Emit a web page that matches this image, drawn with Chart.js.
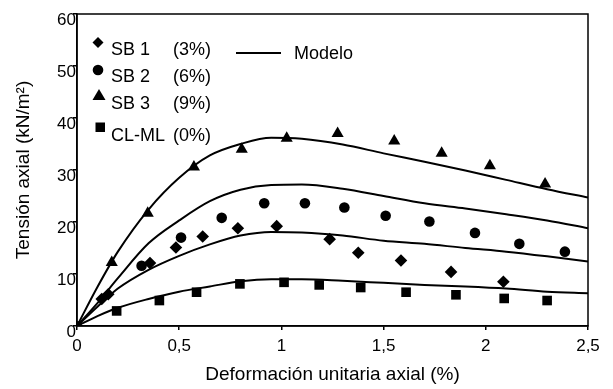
<!DOCTYPE html>
<html>
<head>
<meta charset="utf-8">
<script src="https://cdn.jsdelivr.net/npm/chart.js@4"></script>
<style>
  html, body { margin: 0; padding: 0; background: #fff; }
  #chart { display: block; }
</style>
</head>
<body>
<canvas id="chart" width="613" height="389"></canvas>
<script>
// ensayos (deformación %, tensión kN/m2)
const sb1X = [0.121, 0.153, 0.357, 0.484, 0.615, 0.787, 0.977, 1.236, 1.376, 1.585, 1.830, 2.086];
const sb1Y = [5.2, 6.1, 12.1, 15.1, 17.2, 18.8, 19.2, 16.7, 14.1, 12.6, 10.4, 8.5];

const sb2X = [0.316, 0.509, 0.708, 0.916, 1.115, 1.308, 1.51, 1.724, 1.947, 2.164, 2.387];
const sb2Y = [11.6, 17.0, 20.8, 23.6, 23.6, 22.8, 21.2, 20.1, 17.9, 15.8, 14.3];

const sb3X = [0.17, 0.346, 0.572, 0.806, 1.026, 1.275, 1.552, 1.784, 2.02, 2.29];
const sb3Y = [12.2, 21.7, 30.6, 34.0, 36.1, 37.0, 35.6, 33.2, 30.8, 27.3];

const clX = [0, 0.194, 0.403, 0.585, 0.797, 1.013, 1.185, 1.388, 1.61, 1.854, 2.09, 2.30];
const clY = [0, 2.9, 4.9, 6.5, 8.1, 8.4, 7.9, 7.4, 6.5, 6.0, 5.3, 4.9];

// curvas del modelo
const modelX = [0, 0.1, 0.2, 0.35, 0.5, 0.65, 0.8, 0.95, 1.1, 1.3, 1.5, 1.7, 1.9, 2.1, 2.3, 2.5];
const modelSb3 = [0, 7.5, 14.3, 22.4, 28.5, 32.8, 35.0, 36.2, 36.0, 34.9, 33.2, 31.6, 29.9, 28.1, 26.3, 24.7];
const modelSb2 = [0, 4.4, 9.2, 15.9, 20.3, 24.0, 26.2, 27.1, 27.2, 26.4, 25.0, 23.6, 22.6, 21.5, 20.3, 18.8];
const modelSb1 = [0, 3.7, 7.2, 10.8, 13.5, 15.7, 17.4, 18.1, 18.0, 17.4, 16.4, 15.8, 15.0, 14.3, 13.4, 12.4];
const modelCl = [0, 1.9, 3.5, 5.2, 6.6, 7.6, 8.6, 9.0, 9.0, 8.7, 8.3, 7.9, 7.6, 7.2, 6.6, 6.3];

const xTicks = [0, 0.5, 1, 1.5, 2, 2.5];
const yTicks = [0, 10, 20, 30, 40, 50, 60];

const FONT = "'Liberation Sans', Arial, sans-serif";

function pts(xs, ys) {
  return xs.map((x, i) => ({ x: x, y: ys[i] }));
}

function modelSet(ys) {
  return {
    data: pts(modelX, ys),
    showLine: true,
    borderColor: '#000',
    borderWidth: 2,
    pointRadius: 0,
    cubicInterpolationMode: 'monotone',
    fill: false
  };
}

function markerSet(xs, ys, style, r) {
  return {
    data: pts(xs, ys),
    showLine: false,
    pointStyle: style,
    pointRadius: r,
    pointBackgroundColor: '#000',
    pointBorderColor: '#000',
    pointBorderWidth: 0
  };
}

// marco y leyenda dibujados a mano
const framePlugin = {
  id: 'frame',
  afterDraw(chart) {
    const ctx = chart.ctx;
    const a = chart.chartArea;
    ctx.save();
    ctx.strokeStyle = '#000';
    ctx.lineWidth = 1.5;
    ctx.strokeRect(a.left, a.top, a.right - a.left, a.bottom - a.top);

    ctx.fillStyle = '#000';
    ctx.font = '18px ' + FONT;
    ctx.textBaseline = 'alphabetic';

    // rombo
    ctx.beginPath();
    ctx.moveTo(98, 37); ctx.lineTo(103.5, 42.5); ctx.lineTo(98, 48); ctx.lineTo(92.5, 42.5);
    ctx.closePath(); ctx.fill();
    ctx.fillText('SB 1', 111, 54.5);
    ctx.fillText('(3%)', 173, 54.5);

    // circulo
    ctx.beginPath();
    ctx.arc(98, 70, 5.3, 0, Math.PI * 2);
    ctx.fill();
    ctx.fillText('SB 2', 111, 82);
    ctx.fillText('(6%)', 173, 82);

    // triangulo
    ctx.beginPath();
    ctx.moveTo(99, 89); ctx.lineTo(105.5, 100); ctx.lineTo(92.5, 100);
    ctx.closePath(); ctx.fill();
    ctx.fillText('SB 3', 111, 108.5);
    ctx.fillText('(9%)', 173, 108.5);

    // cuadrado
    ctx.fillRect(95.5, 122.5, 9.5, 9.5);
    ctx.fillText('CL-ML', 111, 140.5);
    ctx.fillText('(0%)', 173, 140.5);

    // modelo
    ctx.lineWidth = 2;
    ctx.beginPath();
    ctx.moveTo(236, 53);
    ctx.lineTo(281, 53);
    ctx.stroke();
    ctx.fillText('Modelo', 294, 58.5);
    ctx.restore();
  }
};

new Chart(document.getElementById('chart'), {
  type: 'scatter',
  data: {
    datasets: [
      markerSet(clX, clY, 'rect', 6.8),
      markerSet(sb1X, sb1Y, 'rectRot', 6.3),
      markerSet(sb2X, sb2Y, 'circle', 5.3),
      markerSet(sb3X, sb3Y, 'triangle', 7),
      modelSet(modelSb3),
      modelSet(modelSb2),
      modelSet(modelSb1),
      modelSet(modelCl)
    ]
  },
  options: {
    responsive: false,
    animation: false,
    devicePixelRatio: 1,
    layout: { padding: { left: 0, right: 25, top: 14, bottom: 0 } },
    plugins: {
      legend: { display: false },
      tooltip: { enabled: false }
    },
    scales: {
      x: {
        type: 'linear',
        min: 0,
        max: 2.5,
        afterFit(scale) { scale.height = 63; },
        afterBuildTicks(scale) { scale.ticks = xTicks.map(v => ({ value: v })); },
        grid: { drawOnChartArea: false, tickLength: 4, color: '#000', lineWidth: 1.5 },
        border: { color: '#000', width: 1.5 },
        ticks: {
          color: '#000',
          font: { family: FONT, size: 17 },
          padding: 6,
          maxRotation: 0,
          callback: v => String(v).replace('.', ',')
        },
        title: {
          display: true,
          text: 'Deformación unitaria axial (%)',
          color: '#000',
          font: { family: FONT, size: 19 },
          padding: { top: 0, bottom: 3 }
        }
      },
      y: {
        type: 'linear',
        min: 0,
        max: 60,
        afterFit(scale) { scale.width = 77; },
        afterBuildTicks(scale) { scale.ticks = yTicks.map(v => ({ value: v })); },
        grid: { drawOnChartArea: false, tickLength: 4, color: '#000', lineWidth: 1.5 },
        border: { color: '#000', width: 1.5 },
        ticks: {
          color: '#000',
          font: { family: FONT, size: 17 },
          padding: -3,
          labelOffset: 6
        },
        title: {
          display: true,
          text: 'Tensión axial (kN/m²)',
          color: '#000',
          font: { family: FONT, size: 19 },
          padding: { top: 12, bottom: 0 }
        }
      }
    }
  },
  plugins: [framePlugin]
});
</script>
</body>
</html>
